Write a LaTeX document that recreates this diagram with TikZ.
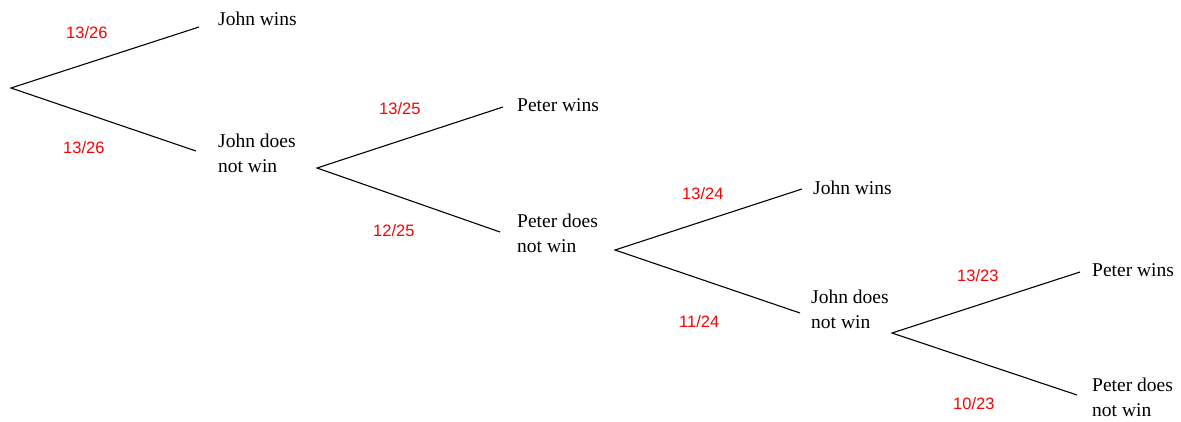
\documentclass[tikz,border=0pt]{standalone}
\usepackage{fontspec}
\setmainfont{Liberation Serif}
\newfontfamily\probfont{Liberation Sans}
\begin{document}
\begin{tikzpicture}[x=1pt,y=-1pt,
  branch/.style={draw=black,line width=1.1pt},
  outcome/.style={anchor=base west,inner sep=0pt,font=\fontsize{19.5}{24.5}\selectfont,align=left},
  prob/.style={anchor=base west,inner sep=0pt,text=red,font=\probfont\fontsize{16.5}{20}\selectfont}]
\useasboundingbox (0,0) rectangle (1181,421);
% branch points and ends
\coordinate (r0) at (11,88);
\coordinate (a1) at (199,27);
\coordinate (b1) at (196,151);
\coordinate (r1) at (317,168);
\coordinate (a2) at (503,107);
\coordinate (b2) at (500,232);
\coordinate (r2) at (615,250);
\coordinate (a3) at (802,189);
\coordinate (b3) at (800,313);
\coordinate (r3) at (892,333);
\coordinate (a4) at (1080,272);
\coordinate (b4) at (1077,395);
% outcomes (two-line nodes: base = last line)
\node[outcome] (jw1) at (218,25) {John wins};
\node[outcome] (jn1) at (218,172) {John does\\not win};
\node[outcome] (pw1) at (517,111) {Peter wins};
\node[outcome] (pn1) at (517,252) {Peter does\\not win};
\node[outcome] (jw2) at (813,194) {John wins};
\node[outcome] (jn2) at (811,328) {John does\\not win};
\node[outcome] (pw2) at (1092,276) {Peter wins};
\node[outcome] (pn2) at (1092,416) {Peter does\\not win};
% probabilities
\node[prob] (p1) at (66,38) {13/26};
\node[prob] (p2) at (63,153) {13/26};
\node[prob] (p3) at (379,114) {13/25};
\node[prob] (p4) at (373,236) {12/25};
\node[prob] (p5) at (682,199) {13/24};
\node[prob] (p6) at (679,327) {11/24};
\node[prob] (p7) at (957,281) {13/23};
\node[prob] (p8) at (953,409) {10/23};
% branches
\draw[branch] (a1) -- (r0) -- (b1);
\draw[branch] (a2) -- (r1) -- (b2);
\draw[branch] (a3) -- (r2) -- (b3);
\draw[branch] (a4) -- (r3) -- (b4);
\end{tikzpicture}
\end{document}
